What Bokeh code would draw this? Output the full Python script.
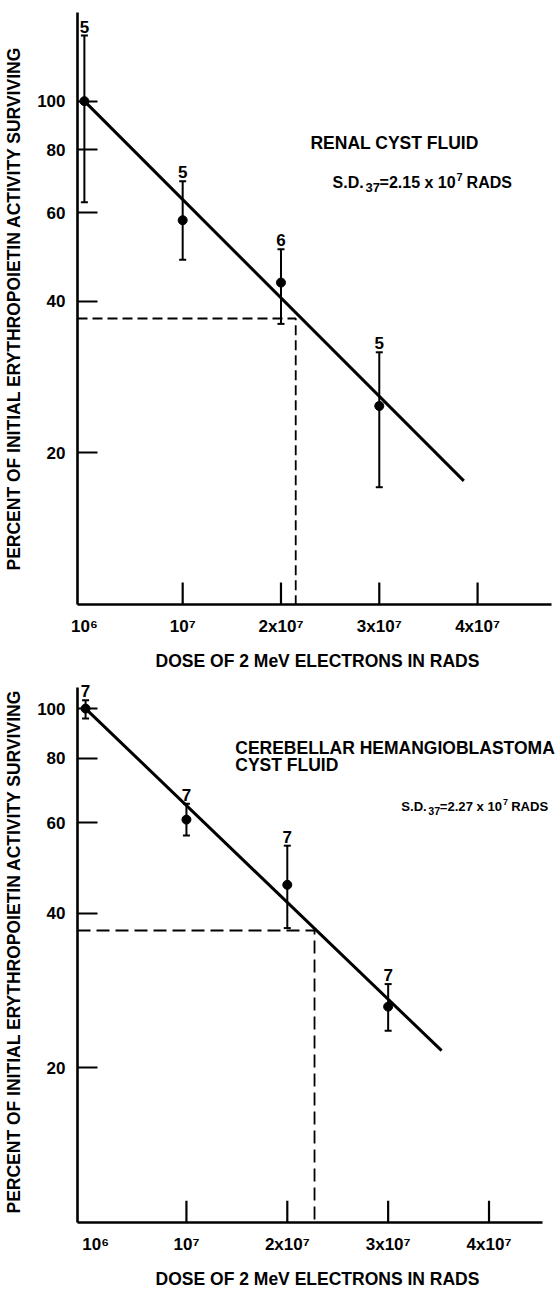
from bokeh.plotting import figure
from bokeh.models import ColumnDataSource, Whisker, TeeHead, FixedTicker, Label, Range1d, NumeralTickFormatter
from bokeh.layouts import column
from bokeh.embed import file_html
from bokeh.resources import INLINE
from bokeh.core.properties import value

# ---------------- data ----------------
x_tick_labels = ["10⁶", "10⁷", "2x10⁷", "3x10⁷", "4x10⁷"]
x_ticks_top = [0, 1, 2, 3, 4]          # dose in units of 10^7 rads (origin labelled 10^6)
x_ticks_bottom = [0.1, 1, 2, 3, 4]
y_ticks = [20, 40, 60, 80, 100]

renal_dose = [0, 1, 2, 3]
renal_pct = [100, 58.0, 43.6, 24.8]
renal_hi = [135, 69.3, 50.8, 31.7]
renal_lo = [63, 48.4, 36.1, 17.1]
renal_n = ["5", "5", "6", "5"]
renal_fit_dose = [0, 3.86]
renal_fit_pct = [100, 17.6]
renal_sd37 = 2.15

cereb_dose = [0, 1, 2, 3]
cereb_pct = [100, 60.8, 45.4, 26.3]
cereb_hi = [103.8, 65.3, 54.1, 29.1]
cereb_lo = [95.6, 56.6, 37.4, 23.6]
cereb_n = ["7", "7", "7", "7"]
cereb_fit_dose = [0, 3.53]
cereb_fit_pct = [100, 21.6]
cereb_sd37 = 2.27

surv37 = 37

FONT = "Liberation Sans"
X_TITLE = "DOSE OF 2 MeV ELECTRONS IN RADS"
Y_TITLE = "PERCENT OF INITIAL ERYTHROPOIETIN ACTIVITY SURVIVING"


def panel(height, x_start, x_end, x_axis_end, y_start, y_end, y_axis_top, x_ticks,
          borders, dose, pct, hi, lo, n, fit_x, fit_y, sd37, dash, px_per_decade):
    top, bottom, left, right = borders
    p = figure(width=557, height=height, x_range=Range1d(x_start, x_end),
               y_range=Range1d(y_start, y_end), y_axis_type="log",
               output_backend="svg", toolbar_location=None,
               min_border_top=top, min_border_bottom=bottom,
               min_border_left=left, min_border_right=right)
    p.outline_line_color = None
    p.xgrid.visible = False
    p.ygrid.visible = False
    p.background_fill_color = "white"
    p.border_fill_color = "white"

    # y axis
    ya = p.yaxis[0]
    ya.ticker = FixedTicker(ticks=y_ticks, minor_ticks=[])
    ya.formatter = NumeralTickFormatter(format="0")
    ya.bounds = (y_start, y_axis_top)
    ya.major_tick_in = 20
    ya.major_tick_out = 0
    ya.minor_tick_line_color = None
    ya.major_tick_line_width = 2.2
    ya.axis_line_width = 2.6
    ya.major_label_standoff = 12
    ya.major_label_text_font = FONT
    ya.major_label_text_font_size = "17px"
    ya.major_label_text_font_style = "bold"
    ya.major_label_text_color = "black"
    ya.axis_label = Y_TITLE
    ya.axis_label_text_font = FONT
    ya.axis_label_text_font_size = "17.5px"
    ya.axis_label_text_font_style = "bold"
    ya.axis_label_text_color = "black"
    ya.axis_label_standoff = 10

    # x axis (tick marks drawn separately: none at the origin)
    xa = p.xaxis[0]
    xa.ticker = FixedTicker(ticks=x_ticks, minor_ticks=[])
    xa.major_label_overrides = {t: lab for t, lab in zip(x_ticks, x_tick_labels)}
    xa.bounds = (x_start, x_axis_end)
    xa.major_tick_in = 0
    xa.major_tick_out = 0
    xa.minor_tick_line_color = None
    xa.axis_line_width = 2.6
    xa.major_label_standoff = 12
    xa.major_label_text_font = FONT
    xa.major_label_text_font_size = "17px"
    xa.major_label_text_font_style = "bold"
    xa.major_label_text_color = "black"
    xa.axis_label = X_TITLE
    xa.axis_label_text_font = FONT
    xa.axis_label_text_font_size = "17.5px"
    xa.axis_label_text_font_style = "bold"
    xa.axis_label_text_color = "black"
    xa.axis_label_standoff = 12

    tick_top = y_start * 10 ** (22.0 / px_per_decade)
    p.segment(x0=x_ticks[1:], y0=[y_start] * 4, x1=x_ticks[1:], y1=[tick_top] * 4,
              line_color="black", line_width=2.2)

    # 37% construction lines
    p.line([x_start, sd37, sd37], [surv37, surv37, y_start], line_color="black",
           line_width=1.8, line_dash=dash)

    # fitted line
    p.line(fit_x, fit_y, line_color="black", line_width=3)

    src = ColumnDataSource(dict(x=dose, y=pct, hi=hi, lo=lo, n=n))
    w = Whisker(source=src, base="x", upper="hi", lower="lo", line_width=2,
                line_color="black",
                upper_head=TeeHead(size=7, line_width=2, line_color="black"),
                lower_head=TeeHead(size=7, line_width=2, line_color="black"))
    p.add_layout(w)
    p.scatter("x", "y", source=src, size=9, color="black")
    p.text(x="x", y="hi", text="n", source=src, text_align="center",
           text_baseline="bottom", y_offset=-3, text_font=value(FONT),
           text_font_size="17px", text_font_style="bold", text_color="black")
    return p


def text(p, x, y, s, size=17.5, x_offset=0, y_offset=0, baseline="alphabetic"):
    p.add_layout(Label(x=x, y=y, text=s, text_font=FONT, text_font_size=f"{size:.1f}px",
                       text_font_style="bold", text_baseline=baseline,
                       x_offset=x_offset, y_offset=y_offset, text_color="black"))


def sd_text(p, x, y, sd_str, k=1.0):
    # S.D. with subscript 37 and 10 with superscript 7
    text(p, x, y, "S.D.", 16 * k)
    text(p, x, y, "37", 13 * k, x_offset=33 * k, y_offset=-5 * k)
    text(p, x, y, "=" + sd_str + " x 10", 16 * k, x_offset=47 * k)
    text(p, x, y, "7", 11 * k, x_offset=124 * k, y_offset=6 * k)
    text(p, x, y, "RADS", 16 * k, x_offset=134 * k)


p1 = panel(675, -0.07, 4.813, 4.75, 10, 150, 150, x_ticks_top, (12, 71, 77, 0),
           renal_dose, renal_pct, renal_hi, renal_lo, renal_n,
           renal_fit_dose, renal_fit_pct, renal_sd37, "10 5", 502.6)
text(p1, 2.30, 82.6, "RENAL CYST FLUID", baseline="middle")
sd_text(p1, 2.525, 68.9, "2.15")

p2 = panel(616, -0.08, 4.679, 4.53, 10, 113.4, 110, x_ticks_bottom, (5, 65, 73, 0),
           cereb_dose, cereb_pct, cereb_hi, cereb_lo, cereb_n,
           cereb_fit_dose, cereb_fit_pct, cereb_sd37, "13 6", 517.7)
text(p2, 1.484, 83.8, "CEREBELLAR HEMANGIOBLASTOMA", baseline="middle")
text(p2, 1.484, 77.7, "CYST FLUID", baseline="middle")
sd_text(p2, 3.13, 64.5, "2.27", k=0.82)

layout = column(p1, p2, spacing=0)
open("out.html", "w").write(file_html(layout, INLINE))
